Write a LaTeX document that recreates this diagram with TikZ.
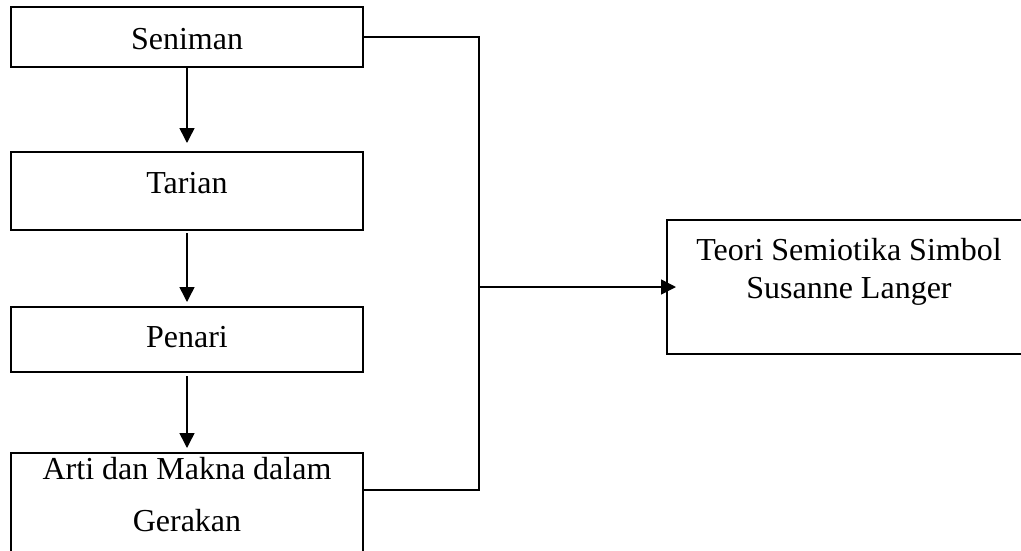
\documentclass[tikz,border=0pt]{standalone}
\usepackage{fontspec}
\setmainfont{Liberation Serif}
\usetikzlibrary{arrows.meta}
\begin{document}
\begin{tikzpicture}[x=1pt,y=-1pt,
  box/.style={draw,line width=1.5pt,inner sep=0pt,outer sep=0pt},
  lbl/.style={anchor=base,inner sep=0pt,font=\fontsize{32}{38}\selectfont,align=center},
  conn/.style={line width=1.5pt},
  arr/.style={line width=1.5pt,-{Triangle[length=15pt,width=15pt]}}]
\useasboundingbox (0,0) rectangle (1021,550);
\clip (0,0) rectangle (1021,550);
% boxes
\node[box,minimum width=352pt,minimum height=60pt] (sen) at (187,37) {};
\node[box,minimum width=352pt,minimum height=78pt] (tar) at (187,191) {};
\node[box,minimum width=352pt,minimum height=65pt] (pen) at (187,339.5) {};
\node[box,minimum width=352pt,minimum height=120pt] (arti) at (187,513) {};
\node[box,minimum width=370pt,minimum height=134pt] (teo) at (852,287) {};
% texts
\node[lbl] (senT) at (187,49) {Seniman};
\node[lbl] (tarT) at (187,193) {Tarian};
\node[lbl] (penT) at (187,347) {Penari};
\node[lbl,font=\fontsize{32}{52}\selectfont] (artiT) at (187,531) {Arti dan Makna dalam\\Gerakan};
\node[lbl] (teoT) at (849,298) {Teori Semiotika Simbol\\Susanne Langer};
% vertical arrows
\draw[arr,shorten >=9pt] (sen.south) -- (tar.north);
\draw[arr,shorten <=3pt,shorten >=5pt] (tar.south) -- (pen.north);
\draw[arr,shorten <=4pt,shorten >=5pt] (pen.south) -- (arti.north);
% bracket connector
\coordinate (j) at (479,287);
\draw[conn] (sen.east) -| (j) |- ([yshift=-37pt]arti.north east);
\draw[arr] (j) -- ([xshift=9pt]teo.west);
\end{tikzpicture}
\end{document}
